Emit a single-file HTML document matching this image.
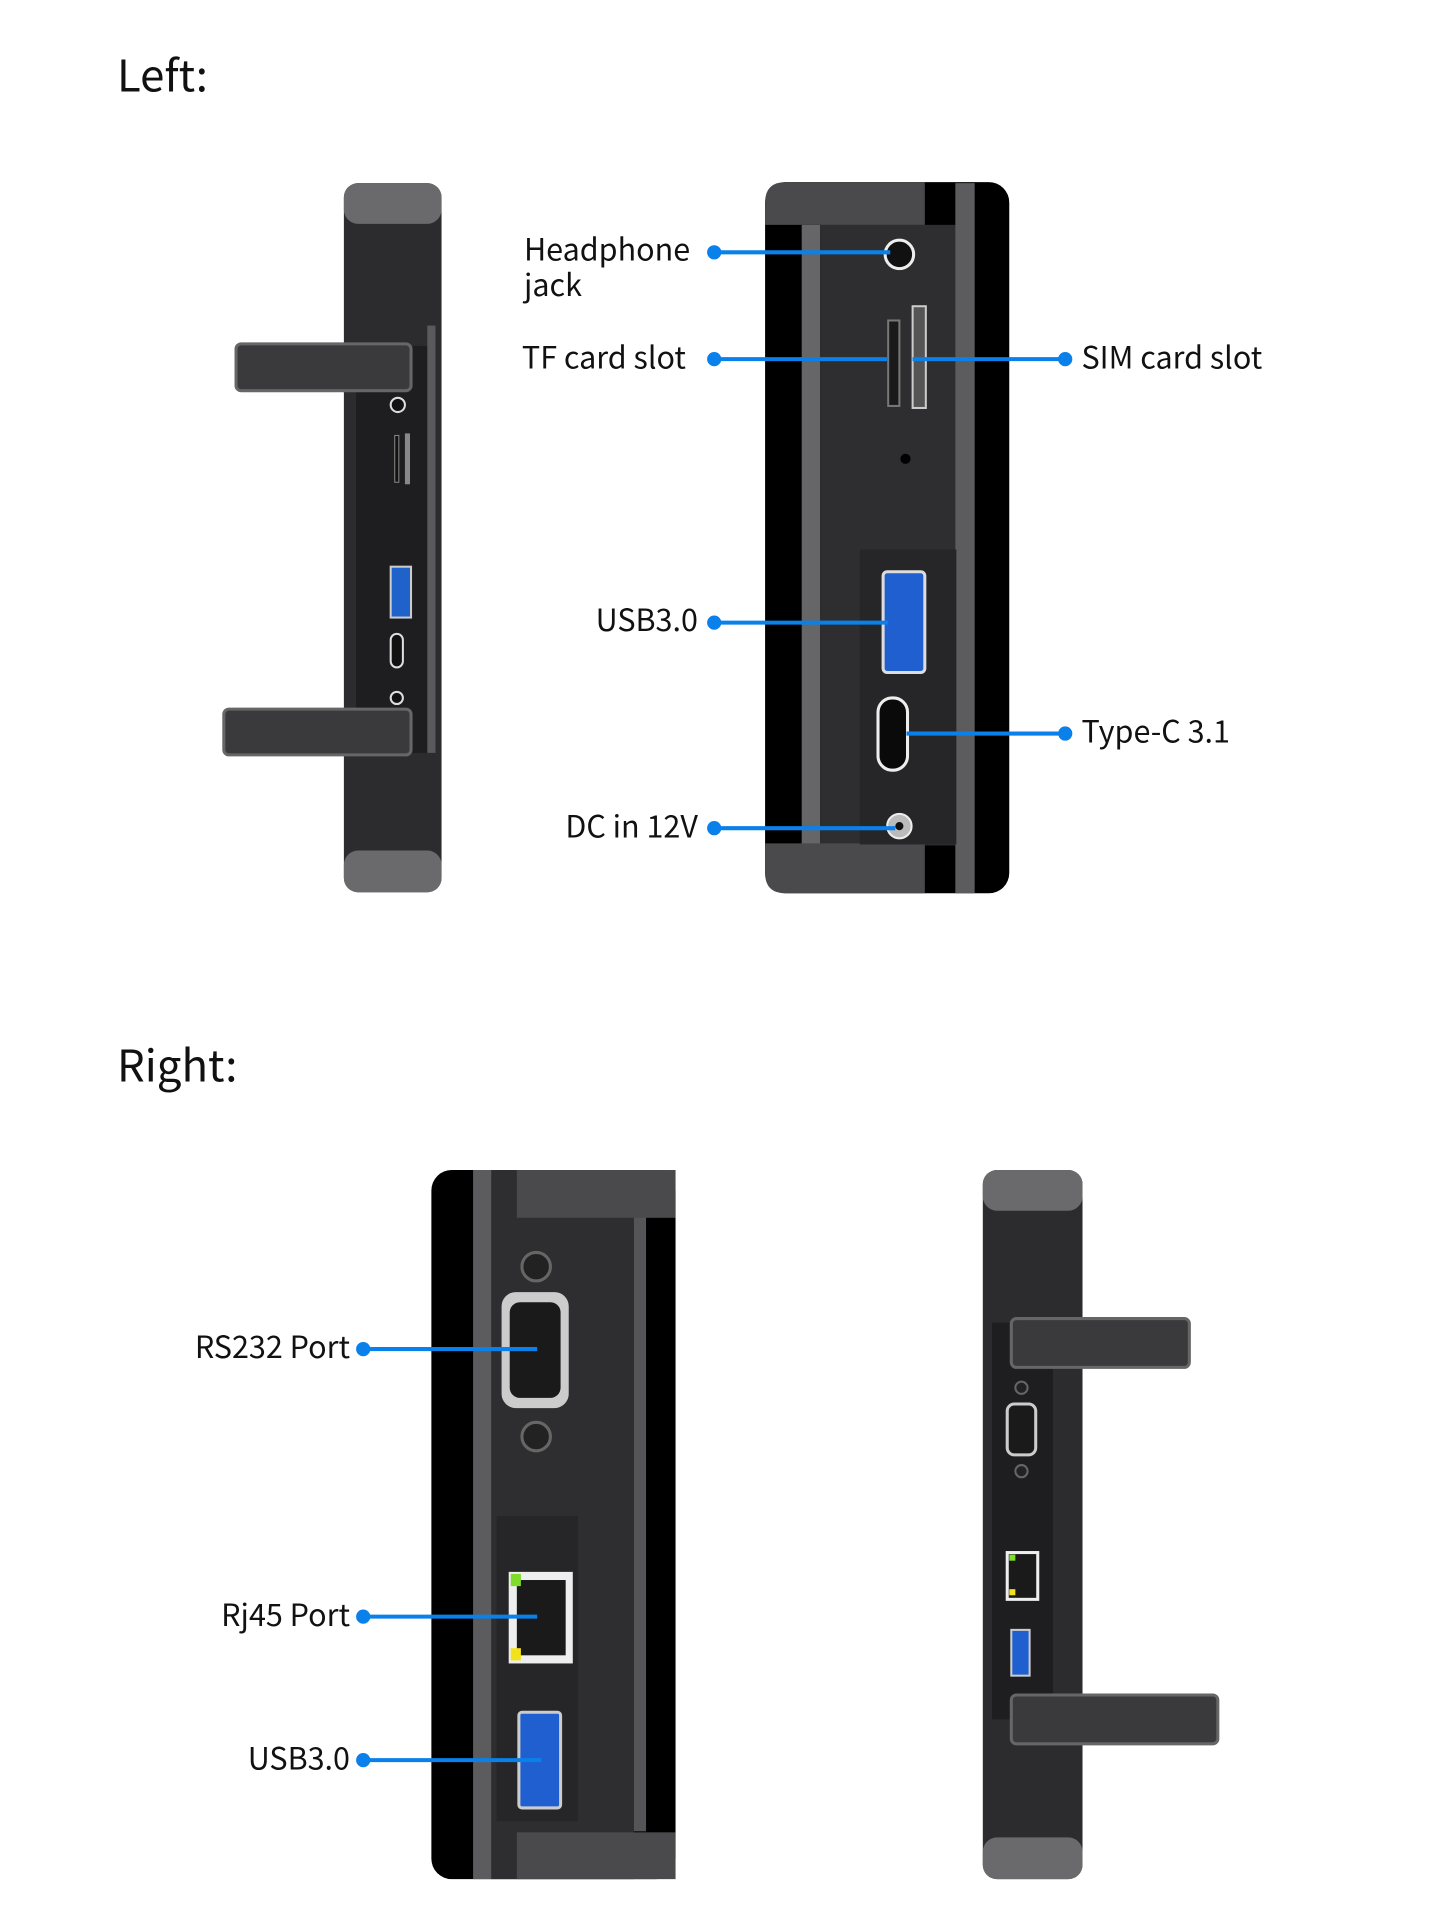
<!DOCTYPE html>
<html><head><meta charset="utf-8"><style>
html,body{margin:0;padding:0;background:#fff;}
svg{display:block;}
text{font-family:"Noto Sans CJK SC","Liberation Sans",sans-serif;fill:#111;}
</style></head><body>
<svg width="1451" height="1929" viewBox="0 0 1451 1929" xmlns="http://www.w3.org/2000/svg">
<g transform="scale(1.0174)">
<text x="115" y="90" font-size="43">Left:</text>
<text x="115" y="1063" font-size="43">Right:</text>

<!-- Left small device -->
<g>
<rect x="338" y="180" width="96" height="697" rx="14" fill="#2c2c2e"/>
<rect x="338" y="180" width="96" height="40" rx="14" fill="#6a6a6c"/>
<rect x="338" y="836" width="96" height="41" rx="14" fill="#6a6a6c"/>
<rect x="350" y="340" width="72" height="400" fill="#1e1e20"/>
<rect x="420" y="320" width="8" height="420" fill="#5a5a5c"/>
<rect x="232" y="338" width="172" height="46" rx="5" fill="#3a3a3c" stroke="#666" stroke-width="3"/>
<rect x="220" y="697" width="184" height="45" rx="5" fill="#3a3a3c" stroke="#666" stroke-width="3"/>
<circle cx="391" cy="398" r="7" fill="#111" stroke="#ddd" stroke-width="2"/>
<rect x="388" y="428" width="4" height="46" fill="#111" stroke="#888"/>
<rect x="398" y="426" width="5" height="50" fill="#888"/>
<rect x="384" y="557" width="20" height="50" fill="#1f62c9" stroke="#ccc" stroke-width="2"/>
<rect x="384" y="623" width="12" height="33" rx="6" fill="#111" stroke="#ddd" stroke-width="2"/>
<circle cx="390" cy="686" r="6" fill="#111" stroke="#ddd" stroke-width="2"/>
</g>

<!-- Left zoom panel -->
<g>
<rect x="752" y="179" width="240" height="699" rx="20" fill="#000"/>
<rect x="788" y="221" width="18" height="610" fill="#666668"/>
<rect x="806" y="221" width="138" height="610" fill="#2e2e30"/>
<rect x="939" y="180" width="19" height="698" fill="#5c5c5e"/>
<path d="M772 179 H909 V221 H752 V199 Q752 179 772 179Z" fill="#4a4a4c"/>
<path d="M752 829 H909 V878 H772 Q752 878 752 858Z" fill="#4a4a4c"/>
<rect x="845" y="540" width="95" height="290" fill="#262628"/>
<circle cx="884" cy="250" r="14" fill="#111" stroke="#eee" stroke-width="3"/>
<rect x="873" y="315" width="11" height="84" fill="#1a1a1a" stroke="#777" stroke-width="2"/>
<rect x="897" y="301" width="13" height="100" fill="#555" stroke="#ccc" stroke-width="2"/>
<circle cx="890" cy="451" r="5" fill="#000"/>
<rect x="868" y="562" width="41" height="99" rx="4" fill="#1f5fd0" stroke="#ddd" stroke-width="3"/>
<rect x="863" y="686" width="29" height="71" rx="14" fill="#0a0a0a" stroke="#eee" stroke-width="3"/>
<circle cx="884" cy="812" r="12" fill="#bbb" stroke="#eee" stroke-width="2"/>
<circle cx="884" cy="812" r="4" fill="#111"/>
</g>

<!-- Right zoom panel -->
<g>
<rect x="424" y="1150" width="240" height="697" rx="20" fill="#000"/>
<rect x="465" y="1150" width="18" height="697" fill="#5c5c5e"/>
<rect x="483" y="1150" width="140" height="697" fill="#2e2e30"/>
<rect x="623" y="1190" width="12" height="610" fill="#555557"/>
<rect x="508" y="1150" width="156" height="47" fill="#4a4a4c"/>
<rect x="508" y="1801" width="156" height="46" fill="#4a4a4c"/>
<rect x="488" y="1490" width="80" height="300" fill="#262628"/>
<circle cx="527" cy="1245" r="14" fill="#222" stroke="#666" stroke-width="3"/>
<circle cx="527" cy="1412" r="14" fill="#222" stroke="#666" stroke-width="3"/>
<rect x="493" y="1270" width="66" height="114" rx="14" fill="#ccc"/>
<rect x="501" y="1280" width="50" height="94" rx="10" fill="#1a1a1a"/>
<rect x="500" y="1545" width="63" height="90" fill="#eee"/>
<rect x="508" y="1553" width="48" height="74" fill="#1a1a1a"/>
<rect x="502" y="1547" width="10" height="12" fill="#7fdc2a"/>
<rect x="502" y="1620" width="10" height="12" fill="#f2e21a"/>
<rect x="510" y="1683" width="41" height="94" rx="3" fill="#1f5fd0" stroke="#ccc" stroke-width="3"/>
</g>

<!-- Right small device -->
<g>
<rect x="966" y="1150" width="98" height="697" rx="14" fill="#2c2c2e"/>
<rect x="966" y="1150" width="98" height="40" rx="14" fill="#6a6a6c"/>
<rect x="966" y="1806" width="98" height="41" rx="14" fill="#6a6a6c"/>
<rect x="975" y="1300" width="60" height="390" fill="#1e1e20"/>
<rect x="994" y="1296" width="175" height="48" rx="5" fill="#3a3a3c" stroke="#666" stroke-width="3"/>
<rect x="994" y="1666" width="203" height="48" rx="5" fill="#3a3a3c" stroke="#666" stroke-width="3"/>
<rect x="990" y="1380" width="28" height="50" rx="7" fill="#1a1a1a" stroke="#ccc" stroke-width="3"/>
<circle cx="1004" cy="1364" r="6" fill="#222" stroke="#666" stroke-width="2"/>
<circle cx="1004" cy="1446" r="6" fill="#222" stroke="#666" stroke-width="2"/>
<rect x="990" y="1526" width="30" height="46" fill="#1a1a1a" stroke="#eee" stroke-width="3"/>
<rect x="992" y="1528" width="6" height="6" fill="#7fdc2a"/>
<rect x="992" y="1562" width="6" height="6" fill="#f2e21a"/>
<rect x="994" y="1602" width="18" height="45" fill="#1f5fd0" stroke="#ccc" stroke-width="2"/>
</g>

<g stroke="#0a80ea" stroke-width="4" fill="#0a80ea">
<line x1="702" y1="248" x2="875" y2="248"/><circle cx="702" cy="248" r="5"/>
<line x1="702" y1="353" x2="873" y2="353"/><circle cx="702" cy="353" r="5"/>
<line x1="897" y1="353" x2="1047" y2="353"/><circle cx="1047" cy="353" r="5"/>
<line x1="702" y1="612" x2="873" y2="612"/><circle cx="702" cy="612" r="5"/>
<line x1="891" y1="721" x2="1047" y2="721"/><circle cx="1047" cy="721" r="5"/>
<line x1="702" y1="814" x2="880" y2="814"/><circle cx="702" cy="814" r="5"/>
<line x1="357" y1="1326" x2="528" y2="1326"/><circle cx="357" cy="1326" r="5"/>
<line x1="357" y1="1589" x2="528" y2="1589"/><circle cx="357" cy="1589" r="5"/>
<line x1="357" y1="1730" x2="532" y2="1730"/><circle cx="357" cy="1730" r="5"/>
</g>
<g font-size="30">
<text x="515" y="256">Headphone</text>
<text x="515" y="291">jack</text>
<text x="513" y="362">TF card slot</text>
<text x="1063" y="362">SIM card slot</text>
<text x="686" y="620" text-anchor="end">USB3.0</text>
<text x="1063" y="730">Type-C 3.1</text>
<text x="686" y="823" text-anchor="end">DC in 12V</text>
<text x="344" y="1335" text-anchor="end">RS232 Port</text>
<text x="344" y="1598" text-anchor="end">Rj45 Port</text>
<text x="344" y="1739" text-anchor="end">USB3.0</text>
</g>
</g>
</svg>
</body></html>
